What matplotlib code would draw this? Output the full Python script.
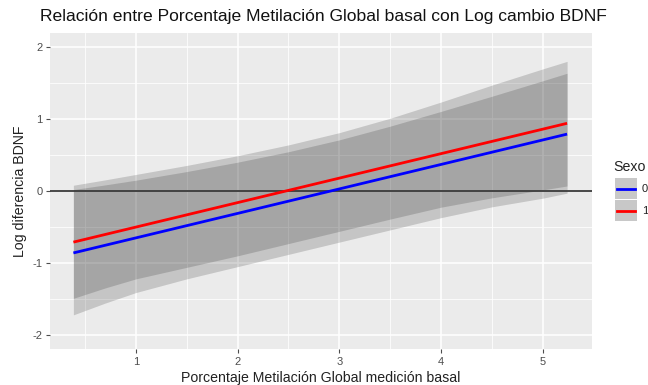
import matplotlib
matplotlib.use("Agg")
import matplotlib.pyplot as plt
from matplotlib.patches import Rectangle
from matplotlib.lines import Line2D

plt.rcParams['font.family'] = ['Liberation Sans', 'DejaVu Sans']

# ---- data ----
band_x = [0.385, 0.7, 1.0, 1.5, 2.0, 2.5, 3.0, 3.5, 4.0, 4.5, 5.0, 5.24]
# Sexo 0 (blue)
fit0_x = [0.385, 5.24]
fit0_y = [-0.86, 0.79]
upper0 = [0.02, 0.085, 0.15, 0.27, 0.40, 0.545, 0.71, 0.90, 1.105, 1.315, 1.53, 1.635]
lower0 = [-1.72, -1.555, -1.41, -1.22, -1.05, -0.88, -0.71, -0.54, -0.37, -0.22, -0.10, -0.03]
# Sexo 1 (red)
fit1_x = [0.385, 5.24]
fit1_y = [-0.71, 0.94]
upper1 = [0.08, 0.155, 0.23, 0.355, 0.49, 0.64, 0.81, 1.01, 1.235, 1.47, 1.695, 1.80]
lower1 = [-1.49, -1.345, -1.22, -1.06, -0.90, -0.73, -0.56, -0.39, -0.225, -0.095, 0.015, 0.07]

groups = ["0", "1"]
colors = ["#0000FF", "#FF0000"]
x_ticks = [1, 2, 3, 4, 5]
y_ticks = [-2, -1, 0, 1, 2]

title = "Relación entre Porcentaje Metilación Global basal con Log cambio BDNF"
xlabel = "Porcentaje Metilación Global medición basal"
ylabel = "Log diferencia BDNF"
legend_title = "Sexo"

W, H = 648, 385
fig = plt.figure(figsize=(W / 100, H / 100), dpi=100)
fig.patch.set_facecolor("white")

def fx(px):
    return px / W

def fy(py):
    return 1 - py / H

ax = fig.add_axes([fx(50), fy(349), fx(592) - fx(50), fy(33) - fy(349)])
ax.set_facecolor("#EBEBEB")
ax.set_xlim(0.155, 5.485)
ax.set_ylim(-2.194, 2.194)

# grid
for v in [0.5, 1.5, 2.5, 3.5, 4.5]:
    ax.axvline(v, color="white", lw=0.55, zorder=0.5)
for v in [-1.5, -0.5, 0.5, 1.5]:
    ax.axhline(v, color="white", lw=0.55, zorder=0.5)
for v in x_ticks:
    ax.axvline(v, color="white", lw=1.1, zorder=0.6)
for v in y_ticks:
    ax.axhline(v, color="white", lw=1.1, zorder=0.6)

band_fill = "black"
band_alpha = 0.16
ax.fill_between(band_x, lower0, upper0, color=band_fill, alpha=band_alpha, lw=0, zorder=1)
ax.fill_between(band_x, lower1, upper1, color=band_fill, alpha=band_alpha, lw=0, zorder=1)

ax.axhline(0, color="#3A3A3A", lw=1.3, zorder=2)

ax.plot(fit0_x, fit0_y, color=colors[0], lw=2.0, solid_capstyle="butt", zorder=3)
ax.plot(fit1_x, fit1_y, color=colors[1], lw=2.0, solid_capstyle="butt", zorder=3)

for s in ax.spines.values():
    s.set_visible(False)

ax.set_xticks(x_ticks)
ax.set_yticks(y_ticks)
ax.set_xticklabels([str(v) for v in x_ticks])
ax.set_yticklabels([str(v) for v in y_ticks])
ax.tick_params(axis="both", colors="#4D4D4D", labelsize=8, length=3, width=0.8, pad=2.5)
ax.tick_params(axis="both", labelcolor="#4D4D4D")

ax.set_xlabel(xlabel, fontsize=10.2, color="#222222", labelpad=3)
ax.set_ylabel(ylabel, fontsize=10.2, color="#222222", labelpad=4)

fig.text(fx(40), fy(17), title, fontsize=12.6, color="#111111", ha="left", va="center")

# legend (manual, partly cut by the right edge like the reference)
fig.text(fx(613), fy(167), legend_title, fontsize=10.2, color="#222222", ha="left", va="center")
key_top = 178
key_h = 22
for i, (g, c) in enumerate(zip(groups, colors)):
    top = key_top + i * key_h
    fig.patches.append(Rectangle((fx(615), fy(top + key_h - 1)), fx(637) - fx(615),
                                 fy(top) - fy(top + key_h - 1), transform=fig.transFigure,
                                 facecolor="#C8C8C8", edgecolor="none"))
    cy = top + key_h / 2
    fig.lines.append(Line2D([fx(617), fx(635)], [fy(cy), fy(cy)], transform=fig.transFigure,
                            color=c, lw=2.0))
    fig.text(fx(642), fy(cy), g, fontsize=8, color="#222222", ha="left", va="center")

fig.savefig("out.png", dpi=100)
